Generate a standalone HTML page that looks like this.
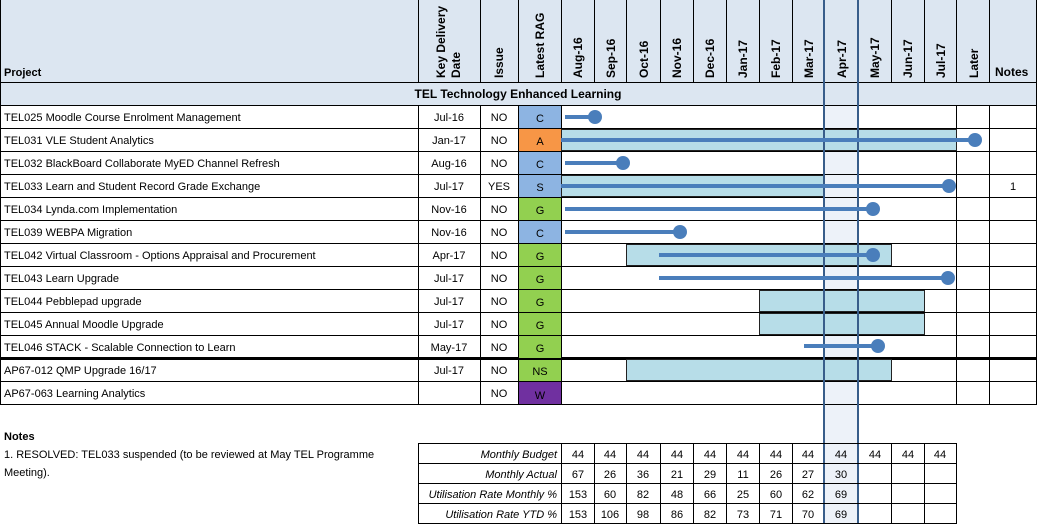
<!DOCTYPE html><html><head><style>body{margin:0;background:#fff}svg{display:block;font-family:"Liberation Sans",Arial,sans-serif}</style></head><body>
<svg width="1037" height="524" viewBox="0 0 1037 524" xmlns="http://www.w3.org/2000/svg">
<rect x="0" y="0" width="1037" height="105" fill="#dce6f1"/>
<rect x="824" y="0" width="34" height="524" fill="#edf2f9"/>
<rect x="824" y="0" width="34" height="105" fill="#dce6f1"/>
<g stroke="#000" stroke-width="1">
<line x1="0" y1="82.5" x2="1037" y2="82.5"/>
<line x1="0" y1="105.5" x2="1037" y2="105.5"/>
<line x1="0" y1="128.5" x2="1037" y2="128.5"/><line x1="0" y1="151.5" x2="1037" y2="151.5"/><line x1="0" y1="174.5" x2="1037" y2="174.5"/><line x1="0" y1="197.5" x2="1037" y2="197.5"/><line x1="0" y1="220.5" x2="1037" y2="220.5"/><line x1="0" y1="243.5" x2="1037" y2="243.5"/><line x1="0" y1="266.5" x2="1037" y2="266.5"/><line x1="0" y1="289.5" x2="1037" y2="289.5"/><line x1="0" y1="312.5" x2="1037" y2="312.5"/><line x1="0" y1="335.5" x2="1037" y2="335.5"/><line x1="0" y1="381.5" x2="1037" y2="381.5"/><line x1="0" y1="404.5" x2="1037" y2="404.5"/>
<line x1="0" y1="358.5" x2="1037" y2="358.5" stroke-width="3"/>
<line x1="0.5" y1="0" x2="0.5" y2="404"/>
<line x1="418.5" y1="0" x2="418.5" y2="82"/><line x1="480.5" y1="0" x2="480.5" y2="82"/><line x1="518.5" y1="0" x2="518.5" y2="82"/>
<line x1="561.5" y1="0" x2="561.5" y2="82"/><line x1="594.5" y1="0" x2="594.5" y2="82"/><line x1="626.5" y1="0" x2="626.5" y2="82"/><line x1="660.5" y1="0" x2="660.5" y2="82"/><line x1="693.5" y1="0" x2="693.5" y2="82"/><line x1="726.5" y1="0" x2="726.5" y2="82"/><line x1="759.5" y1="0" x2="759.5" y2="82"/><line x1="792.5" y1="0" x2="792.5" y2="82"/><line x1="891.5" y1="0" x2="891.5" y2="82"/><line x1="924.5" y1="0" x2="924.5" y2="82"/><line x1="956.5" y1="0" x2="956.5" y2="82"/><line x1="989.5" y1="0" x2="989.5" y2="82"/>
<line x1="418.5" y1="105" x2="418.5" y2="404"/><line x1="480.5" y1="105" x2="480.5" y2="404"/><line x1="518.5" y1="105" x2="518.5" y2="404"/><line x1="561.5" y1="105" x2="561.5" y2="404"/><line x1="956.5" y1="105" x2="956.5" y2="404"/><line x1="989.5" y1="105" x2="989.5" y2="404"/><line x1="1036.5" y1="0" x2="1036.5" y2="404"/>
</g>
<g>
<rect x="519" y="106" width="42" height="22" fill="#8db4e2"/><rect x="519" y="129" width="42" height="22" fill="#f79646"/><rect x="519" y="152" width="42" height="22" fill="#8db4e2"/><rect x="519" y="175" width="42" height="22" fill="#8db4e2"/><rect x="519" y="198" width="42" height="22" fill="#92d050"/><rect x="519" y="221" width="42" height="22" fill="#8db4e2"/><rect x="519" y="244" width="42" height="22" fill="#92d050"/><rect x="519" y="267" width="42" height="22" fill="#92d050"/><rect x="519" y="290" width="42" height="22" fill="#92d050"/><rect x="519" y="313" width="42" height="22" fill="#92d050"/><rect x="519" y="336" width="42" height="22" fill="#92d050"/><rect x="519" y="360" width="42" height="21" fill="#92d050"/><rect x="519" y="382" width="42" height="22" fill="#7030a0"/>
</g>
<g fill="#b7dde8" stroke="#222" stroke-width="1">
<rect x="561.5" y="129.5" width="395" height="21"/>
<rect x="561.5" y="175.5" width="263" height="21"/>
<rect x="626.5" y="244.5" width="265" height="21"/>
<rect x="759.5" y="290.5" width="165" height="21"/>
<rect x="759.5" y="313.5" width="165" height="21"/>
<rect x="626.5" y="359.5" width="265" height="21"/>
</g>
<g stroke="#385d8a" stroke-width="2"><line x1="824" y1="0" x2="824" y2="524"/><line x1="858" y1="0" x2="858" y2="524"/></g>
<g stroke="#4a7ebb" stroke-width="4"><line x1="565" y1="117" x2="595" y2="117"/><line x1="561" y1="140" x2="975" y2="140"/><line x1="565" y1="163" x2="623" y2="163"/><line x1="561" y1="186" x2="949" y2="186"/><line x1="565" y1="209" x2="873" y2="209"/><line x1="565" y1="232" x2="680" y2="232"/><line x1="659" y1="255" x2="873" y2="255"/><line x1="659" y1="278" x2="948" y2="278"/><line x1="804" y1="346" x2="878" y2="346"/></g>
<g fill="#4a7ebb"><circle cx="595" cy="117" r="7"/><circle cx="975" cy="140" r="7"/><circle cx="623" cy="163" r="7"/><circle cx="949" cy="186" r="7"/><circle cx="873" cy="209" r="7"/><circle cx="680" cy="232" r="7"/><circle cx="873" cy="255" r="7"/><circle cx="948" cy="278" r="7"/><circle cx="878" cy="346" r="7"/></g>
<g font-size="11" font-weight="bold" fill="#000">
<text x="4" y="76">Project</text>
<text x="995" y="76" font-size="12">Notes</text>
<g font-size="12">
<text transform="translate(445,78) rotate(-90)">Key Delivery</text>
<text transform="translate(460,78) rotate(-90)">Date</text>
<text transform="translate(503,78) rotate(-90)">Issue</text>
<text transform="translate(544,78) rotate(-90)">Latest RAG</text>
<text transform="translate(582,78) rotate(-90)">Aug-16</text><text transform="translate(615,78) rotate(-90)">Sep-16</text><text transform="translate(648,78) rotate(-90)">Oct-16</text><text transform="translate(681,78) rotate(-90)">Nov-16</text><text transform="translate(714,78) rotate(-90)">Dec-16</text><text transform="translate(747,78) rotate(-90)">Jan-17</text><text transform="translate(780,78) rotate(-90)">Feb-17</text><text transform="translate(813,78) rotate(-90)">Mar-17</text><text transform="translate(846,78) rotate(-90)">Apr-17</text><text transform="translate(879,78) rotate(-90)">May-17</text><text transform="translate(912,78) rotate(-90)">Jun-17</text><text transform="translate(945,78) rotate(-90)">Jul-17</text><text transform="translate(978,78) rotate(-90)">Later</text>
</g>
<text x="518" y="98" text-anchor="middle" font-size="12">TEL Technology Enhanced Learning</text>
<text x="4" y="440">Notes</text>
</g>
<g font-size="11" fill="#000">
<text x="4" y="121">TEL025 Moodle Course Enrolment Management</text>
<text x="4" y="144">TEL031 VLE Student Analytics</text>
<text x="4" y="167">TEL032 BlackBoard Collaborate MyED Channel Refresh</text>
<text x="4" y="190">TEL033 Learn and Student Record Grade Exchange</text>
<text x="4" y="213">TEL034 Lynda.com Implementation</text>
<text x="4" y="236">TEL039 WEBPA Migration</text>
<text x="4" y="259">TEL042 Virtual Classroom - Options Appraisal and Procurement</text>
<text x="4" y="282">TEL043 Learn Upgrade</text>
<text x="4" y="305">TEL044 Pebblepad upgrade</text>
<text x="4" y="328">TEL045 Annual Moodle Upgrade</text>
<text x="4" y="351">TEL046 STACK - Scalable Connection to Learn</text>
<text x="4" y="374">AP67-012 QMP Upgrade 16/17</text>
<text x="4" y="397">AP67-063 Learning Analytics</text>
<g text-anchor="middle">
<text x="449" y="121">Jul-16</text><text x="449" y="144">Jan-17</text><text x="449" y="167">Aug-16</text><text x="449" y="190">Jul-17</text><text x="449" y="213">Nov-16</text><text x="449" y="236">Nov-16</text><text x="449" y="259">Apr-17</text><text x="449" y="282">Jul-17</text><text x="449" y="305">Jul-17</text><text x="449" y="328">Jul-17</text><text x="449" y="351">May-17</text><text x="449" y="374">Jul-17</text>
<text x="499" y="121">NO</text><text x="499" y="144">NO</text><text x="499" y="167">NO</text><text x="499" y="190">YES</text><text x="499" y="213">NO</text><text x="499" y="236">NO</text><text x="499" y="259">NO</text><text x="499" y="282">NO</text><text x="499" y="305">NO</text><text x="499" y="328">NO</text><text x="499" y="351">NO</text><text x="499" y="374">NO</text><text x="499" y="397">NO</text>
<text x="540" y="122">C</text><text x="540" y="145">A</text><text x="540" y="168">C</text><text x="540" y="191">S</text><text x="540" y="214">G</text><text x="540" y="237">C</text><text x="540" y="260">G</text><text x="540" y="283">G</text><text x="540" y="306">G</text><text x="540" y="329">G</text><text x="540" y="352">G</text><text x="540" y="375">NS</text><text x="540" y="399">W</text>
<text x="1013" y="190">1</text>
</g>
<text x="4" y="458">1. RESOLVED: TEL033 suspended (to be reviewed at May TEL Programme</text>
<text x="4" y="476">Meeting).</text>
</g>
<g stroke="#000" stroke-width="1">
<line x1="418" y1="443.5" x2="956" y2="443.5"/><line x1="418" y1="463.5" x2="956" y2="463.5"/><line x1="418" y1="483.5" x2="956" y2="483.5"/><line x1="418" y1="503.5" x2="956" y2="503.5"/><line x1="418" y1="523.5" x2="956" y2="523.5"/>
<line x1="418.5" y1="443" x2="418.5" y2="524"/>
<line x1="561.5" y1="443" x2="561.5" y2="524"/><line x1="594.5" y1="443" x2="594.5" y2="524"/><line x1="626.5" y1="443" x2="626.5" y2="524"/><line x1="660.5" y1="443" x2="660.5" y2="524"/><line x1="693.5" y1="443" x2="693.5" y2="524"/><line x1="726.5" y1="443" x2="726.5" y2="524"/><line x1="759.5" y1="443" x2="759.5" y2="524"/><line x1="792.5" y1="443" x2="792.5" y2="524"/><line x1="891.5" y1="443" x2="891.5" y2="524"/><line x1="924.5" y1="443" x2="924.5" y2="524"/><line x1="956.5" y1="443" x2="956.5" y2="524"/>
</g>
<g font-size="11" fill="#000">
<g font-style="italic" text-anchor="end"><text x="557" y="458">Monthly Budget</text><text x="557" y="478">Monthly Actual</text><text x="557" y="498">Utilisation Rate Monthly %</text><text x="557" y="518">Utilisation Rate YTD %</text></g>
<g text-anchor="middle">
<text x="578" y="458">44</text><text x="610" y="458">44</text><text x="643" y="458">44</text><text x="677" y="458">44</text><text x="710" y="458">44</text><text x="743" y="458">44</text><text x="776" y="458">44</text><text x="808" y="458">44</text><text x="841" y="458">44</text><text x="875" y="458">44</text><text x="908" y="458">44</text><text x="940" y="458">44</text>
<text x="578" y="478">67</text><text x="610" y="478">26</text><text x="643" y="478">36</text><text x="677" y="478">21</text><text x="710" y="478">29</text><text x="743" y="478">11</text><text x="776" y="478">26</text><text x="808" y="478">27</text><text x="841" y="478">30</text>
<text x="578" y="498">153</text><text x="610" y="498">60</text><text x="643" y="498">82</text><text x="677" y="498">48</text><text x="710" y="498">66</text><text x="743" y="498">25</text><text x="776" y="498">60</text><text x="808" y="498">62</text><text x="841" y="498">69</text>
<text x="578" y="518">153</text><text x="610" y="518">106</text><text x="643" y="518">98</text><text x="677" y="518">86</text><text x="710" y="518">82</text><text x="743" y="518">73</text><text x="776" y="518">71</text><text x="808" y="518">70</text><text x="841" y="518">69</text>
</g></g>
</svg>
</body></html>
